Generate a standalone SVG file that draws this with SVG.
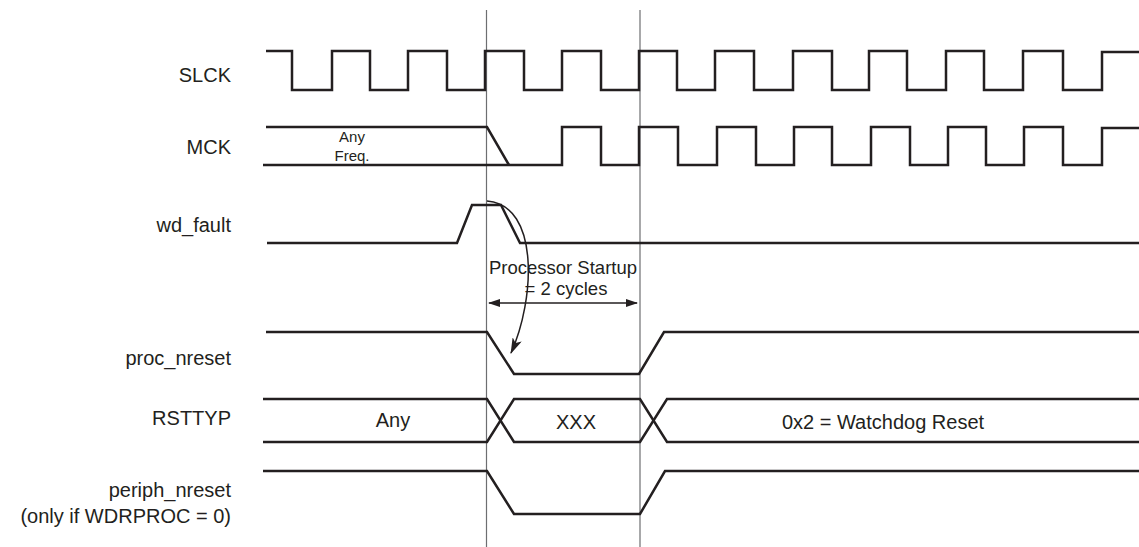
<svg xmlns="http://www.w3.org/2000/svg" width="1139" height="547" viewBox="0 0 1139 547">
<style>
  .sig{fill:none;stroke:#231f20;stroke-width:2.5;stroke-linejoin:miter}
  .guide{fill:none;stroke:#6d6e71;stroke-width:1.2}
  .lbl{font-family:"Liberation Sans",Arial,sans-serif;font-size:20px;fill:#231f20;text-anchor:end}
  .mid{font-family:"Liberation Sans",Arial,sans-serif;font-size:20px;fill:#231f20;text-anchor:middle}
  .small{font-family:"Liberation Sans",Arial,sans-serif;font-size:15px;fill:#231f20;text-anchor:middle}
  .ann{font-family:"Liberation Sans",Arial,sans-serif;font-size:18.5px;fill:#231f20;text-anchor:middle}
  .conn{fill:none;stroke:#231f20;stroke-width:1.5}
</style>
<defs>
  <marker id="ah" viewBox="0 0 12 8" refX="11" refY="4" markerWidth="12" markerHeight="8" markerUnits="userSpaceOnUse" orient="auto-start-reverse">
    <path d="M0,0 L12,4 L0,8 Z" fill="#231f20"/>
  </marker>
  <marker id="ah2" viewBox="0 0 16 10" refX="15" refY="5" markerWidth="16" markerHeight="10" markerUnits="userSpaceOnUse" orient="auto">
    <path d="M0,0 L16,5 L0,10 L4,5 Z" fill="#231f20"/>
  </marker>
</defs>
<rect width="1139" height="547" fill="#ffffff"/>

<g id="guides">
  <line class="guide" x1="486.5" y1="10" x2="486.5" y2="547"/>
  <line class="guide" x1="640" y1="10" x2="640" y2="547"/>
</g>

<g id="slck">
  <text class="lbl" x="231" y="82">SLCK</text>
  <path class="sig" d="M266,51 H292 V90 H332 V51 H370 V90 H408 V51 H447 V90 H485 V51 H524 V90 H562 V51 H601 V90 H639 V51 H677 V90 H715 V51 H754 V90 H793 V51 H832 V90 H869 V51 H907 V90 H946 V51 H984 V90 H1023 V51 H1063 V90 H1102 V52 H1139"/>
</g>

<g id="mck">
  <text class="lbl" x="231" y="154">MCK</text>
  <path class="sig" d="M266,127 H487 L509,165"/>
  <path class="sig" d="M263,165 H562 V127 H601 V165 H639 V127 H678 V165 H717 V127 H756 V165 H794 V127 H832 V165 H871 V127 H910 V165 H948 V127 H986 V165 H1024 V127 H1063 V165 H1102 V128 H1139"/>
  <text class="small" x="352" y="142">Any</text>
  <text class="small" x="352" y="161">Freq.</text>
</g>

<g id="wd_fault">
  <text class="lbl" x="231" y="232">wd_fault</text>
  <path class="sig" d="M267,243 H457 L472,205 H501 L520,243 H1139"/>
</g>

<g id="proc_nreset">
  <text class="lbl" x="231" y="365">proc_nreset</text>
  <path class="sig" d="M266,332 H487 L514,374 H639 L664,332 H1139"/>
</g>

<g id="rsttyp">
  <text class="lbl" x="231" y="425">RSTTYP</text>
  <path class="sig" d="M263,399 H487 L514,442 H640 L667,399 H1139"/>
  <path class="sig" d="M263,442 H487 L514,399 H640 L667,442 H1139"/>
  <text class="mid" x="393" y="427">Any</text>
  <text class="mid" x="576" y="429">XXX</text>
  <text class="mid" x="883" y="429">0x2 = Watchdog Reset</text>
</g>

<g id="periph_nreset">
  <text class="lbl" x="231" y="497">periph_nreset</text>
  <text class="lbl" x="231" y="523">(only if WDRPROC = 0)</text>
  <path class="sig" d="M263,471 H487 L514,514 H640 L665,471 H1139"/>
</g>

<g id="annotation">
  <text class="ann" x="563" y="274">Processor Startup</text>
  <text class="ann" x="566" y="295">= 2 cycles</text>
</g>

<g id="connectors">
  <line class="conn" x1="489" y1="303" x2="637" y2="303" marker-start="url(#ah)" marker-end="url(#ah)"/>
  <path class="conn" d="M487,201 C540,205 535,300 511,353" marker-end="url(#ah2)"/>
</g>
</svg>
